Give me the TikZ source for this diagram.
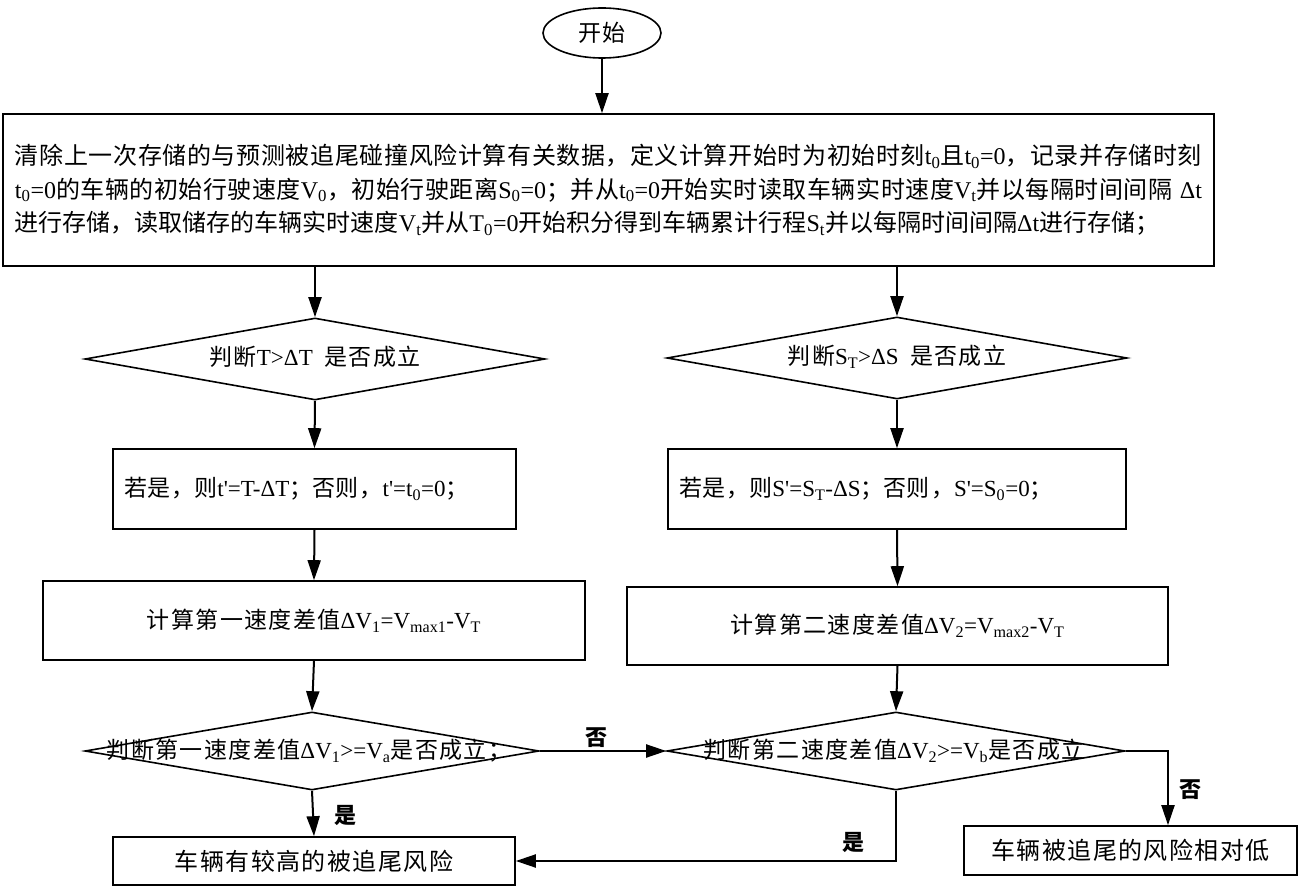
\documentclass[tikz,border=0pt]{standalone}
\usepackage{fontspec}
\setmainfont{Noto Sans CJK SC}
\newfontfamily\cjkw[LetterSpace=6]{Noto Sans CJK SC}
\newfontfamily\latinfont{Liberation Serif}
\usetikzlibrary{arrows.meta,shapes.geometric}
\XeTeXlinebreaklocale "zh"
\XeTeXlinebreakskip=0pt plus 1pt
\newcommand\lt[1]{{\latinfont #1}}
\newcommand\sub[1]{\textsubscript{#1}}
\newcommand\apos{\textquotesingle}
\tikzset{
  box/.style={draw, line width=1.6pt, rectangle, inner sep=0pt, font=\cjkw\fontsize{23pt}{27pt}\selectfont},
  dia/.style={draw, line width=1.6pt, diamond, inner sep=0pt},
  dtext/.style={font=\cjkw\fontsize{23pt}{27pt}\selectfont, inner sep=0pt},
  arr/.style={-{Triangle[length=20pt,width=13pt]}, line width=2pt},
  lbl/.style={font=\fontsize{22pt}{26pt}\selectfont\bfseries, inner sep=0pt}
}
\begin{document}
\begin{tikzpicture}[x=1pt,y=-1pt]
\useasboundingbox[fill=white] (0,0) rectangle (1302,890);
% start
\node[draw, line width=1.6pt, ellipse, minimum width=118pt, minimum height=50pt, inner sep=0pt, font=\cjkw\fontsize{23pt}{27pt}\selectfont] (start) at (602,33) {开始};
% main box
\node[draw, line width=1.6pt, rectangle, minimum width=1211pt, minimum height=152pt, inner xsep=12pt, inner ysep=0pt, text width=1187pt, align=justify, font=\fontsize{24pt}{33.5pt}\selectfont] (main) at (608.5,190) {清除上一次存储的与预测被追尾碰撞风险计算有关数据，定义计算开始时为初始时刻\lt{t\sub{0}}且\lt{t\sub{0}=0}，记录并存储时刻\linebreak
\lt{t\sub{0}=0}的车辆的初始行驶速度\lt{V\sub{0}}，初始行驶距离\lt{S\sub{0}=0}；并从\lt{t\sub{0}=0}开始实时读取车辆实时速度\lt{V\sub{t}}并以每隔时间间隔\lt{ Δt}\linebreak
进行存储，读取储存的车辆实时速度\lt{V\sub{t}}并从\lt{T\sub{0}=0}开始积分得到车辆累计行程\lt{S\sub{t}}并以每隔时间间隔\lt{Δt}进行存储；};
% left column
\node[dia, minimum width=460pt, minimum height=82pt] (d1) at (315,359) {};
\node[dtext] (t1) at (315,357) {判断\lt{T>ΔT\ \ }是否成立};
\node[box, minimum width=403pt, minimum height=80pt, inner xsep=11pt, text width=381pt, align=left] (b1L) at (314.5,489) {若是，则\lt{t\apos=T-ΔT}；否则，\lt{t\apos=t\sub{0}=0}；};
\node[box, minimum width=542pt, minimum height=79pt] (b2L) at (314,620.5) {计算第一速度差值\lt{ΔV\sub{1}=V\sub{max1}-V\sub{T}}};
\node[dia, minimum width=454pt, minimum height=78pt] (d3) at (312,751) {};
\node[dtext] (t3) at (309,751) {判断第一速度差值\lt{ΔV\sub{1}>=V\sub{a}}是否成立；};
\node[box, minimum width=402pt, minimum height=48pt, font=\cjkw\fontsize{24pt}{28pt}\selectfont] (endL) at (314,861) {车辆有较高的被追尾风险};
% right column
\node[dia, minimum width=460pt, minimum height=82pt] (d2) at (897,358) {};
\node[dtext] (t2) at (897,357) {判断\lt{S\sub{T}>ΔS\ \ }是否成立};
\node[box, minimum width=458pt, minimum height=80pt, inner xsep=11pt, text width=436pt, align=left] (b1R) at (897,489) {若是，则\lt{S\apos=S\sub{T}-ΔS}；否则，\lt{S\apos=S\sub{0}=0}；};
\node[box, minimum width=541pt, minimum height=78pt] (b2R) at (897.5,626) {计算第二速度差值\lt{ΔV\sub{2}=V\sub{max2}-V\sub{T}}};
\node[dia, minimum width=458pt, minimum height=78pt] (d4) at (896,751) {};
\node[dtext] (t4) at (894,751) {判断第二速度差值\lt{ΔV\sub{2}>=V\sub{b}}是否成立};
\node[box, minimum width=333pt, minimum height=49pt, font=\cjkw\fontsize{24pt}{28pt}\selectfont] (endR) at (1130.5,850.5) {车辆被追尾的风险相对低};
\coordinate (c1) at (1168,751);
% connectors
\draw[arr] (start.south) -- (start.south |- main.north);
\draw[arr] (d1.north |- main.south) -- (d1.north);
\draw[arr] (d2.north |- main.south) -- (d2.north);
\draw[arr] (d1.south) -- (b1L.north);
\draw[arr] (b1L.south) -- (b2L.north);
\draw[arr] (b2L.south) -- (d3.north);
\draw[arr] (d3.south) -- (endL.north);
\draw[arr] (d2.south) -- (b1R.north);
\draw[arr] (b1R.south) -- (b2R.north);
\draw[arr] (b2R.south) -- (d4.north);
\draw[arr] (d3.east) -- (d4.west);
\draw[arr] (d4.east) -- (c1) -- (c1 |- endR.north);
\draw[arr] (d4.south) |- (endL.east);
% labels
\node[lbl] (n1) at (596,738) {否};
\node[lbl] (y1) at (345,815) {是};
\node[lbl] (n2) at (1190,790) {否};
\node[lbl] (y2) at (853,842) {是};
\end{tikzpicture}
\end{document}
